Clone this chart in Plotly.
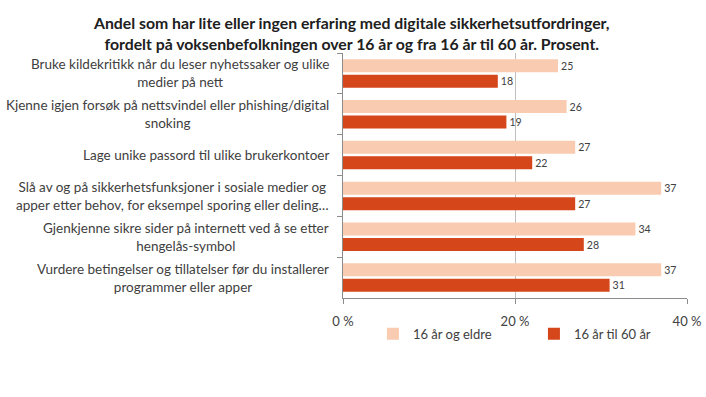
import plotly.graph_objects as go

categories = [
    "Bruke kildekritikk når du leser nyhetssaker og ulike<br>medier på nett",
    "Kjenne igjen forsøk på nettsvindel eller phishing/digital<br>snoking",
    "Lage unike passord til ulike brukerkontoer",
    "Slå av og på sikkerhetsfunksjoner i sosiale medier og<br>apper etter behov, for eksempel sporing eller deling…",
    "Gjenkjenne sikre sider på internett ved å se etter<br>hengelås-symbol",
    "Vurdere betingelser og tillatelser før du installerer<br>programmer eller apper",
]
series_names = ["16 år og eldre", "16 år til 60 år"]
values_16_plus = [25, 26, 27, 37, 34, 37]
values_16_60 = [18, 19, 22, 27, 28, 31]
x_tickvals = [0, 20, 40]
x_ticktext = ["0 %", "20 %", "40 %"]
title_text = ("<b>Andel som har lite eller ingen erfaring med digitale sikkerhetsutfordringer,<br>"
              "fordelt på voksenbefolkningen over 16 år og fra 16 år til 60 år. Prosent.</b>")

colors = ["#F9CBB0", "#D5461A"]
font_family = "Lato, 'Noto Sans', sans-serif"
text_color = "#404040"

fig = go.Figure()
for name, vals, col in zip(series_names, [values_16_plus, values_16_60], colors):
    fig.add_trace(go.Bar(
        y=categories, x=vals, name=name, orientation="h",
        marker=dict(color=col, line=dict(width=0)),
        text=[str(v) for v in vals], textposition="outside",
        textfont=dict(size=13, color=text_color, family=font_family),
        cliponaxis=False,
    ))

# category labels: centred lines, right-aligned block
for cat in categories:
    fig.add_annotation(
        x=0, xref="paper", y=cat, yref="y", text=cat, showarrow=False,
        xanchor="right", yanchor="middle", align="center", xshift=-12,
        font=dict(size=13.5, color=text_color, family=font_family),
    )

fig.add_annotation(
    x=0.026, xref="paper", y=1.17, yref="paper", text=title_text, showarrow=False,
    xanchor="center", yanchor="top", align="center",
    font=dict(size=15.8, color="#202020", family=font_family),
)

fig.update_layout(
    width=706, height=397,
    barmode="group", bargap=0.24, bargroupgap=0.16,
    plot_bgcolor="white", paper_bgcolor="white",
    font=dict(family=font_family, size=12, color=text_color),
    margin=dict(l=343, r=19, t=53, b=99, autoexpand=False),
    xaxis=dict(
        range=[0, 40], tickvals=x_tickvals, ticktext=x_ticktext,
        showgrid=True, gridcolor="#BFBFBF", gridwidth=1,
        showline=True, linecolor="#8C8C8C", linewidth=1,
        ticks="outside", ticklen=5, tickcolor="#8C8C8C",
        tickfont=dict(size=13, color=text_color),
        ticklabeloverflow="allow", ticklabelstandoff=6,
        zeroline=False,
    ),
    yaxis=dict(
        autorange="reversed",
        showline=True, linecolor="#8C8C8C", linewidth=1,
        ticks="outside", ticklen=5, tickcolor="#8C8C8C", tickson="boundaries",
        showticklabels=False,
        showgrid=False,
    ),
    showlegend=True,
    legend=dict(
        orientation="h", x=0.087, xanchor="left",
        y=-0.085, yanchor="top", bgcolor="rgba(0,0,0,0)",
        font=dict(size=13, color=text_color), traceorder="normal",
        itemwidth=30, entrywidth=116,
    ),
)

fig.write_html(
    "out.html",
    config={"displayModeBar": False},
    post_script="document.body.style.margin='0';document.body.style.overflow='hidden';",
)
